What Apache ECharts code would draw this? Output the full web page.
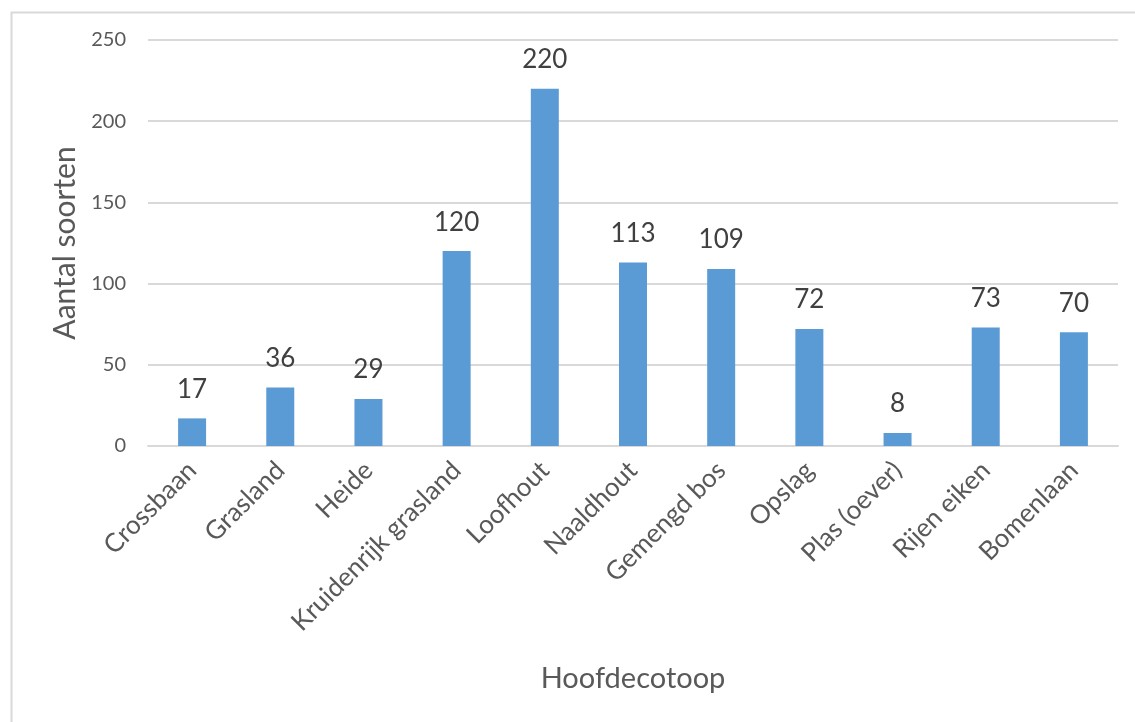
<!DOCTYPE html>
<html>
<head>
<meta charset="utf-8">
<script src="https://cdn.jsdelivr.net/npm/echarts@6/dist/echarts.min.js"></script>
<style>
html,body{margin:0;padding:0;background:#fff;}
#chart{width:1135px;height:722px;}
</style>
</head>
<body>
<div id="chart"></div>
<script>
const categories = ['Crossbaan','Grasland','Heide','Kruidenrijk grasland','Loofhout','Naaldhout','Gemengd bos','Opslag','Plas (oever)','Rijen eiken','Bomenlaan'];
const values = [17, 36, 29, 120, 220, 113, 109, 72, 8, 73, 70];
const yTicks = [0, 50, 100, 150, 200, 250];
const yAxisTitle = 'Aantal soorten';
const xAxisTitle = 'Hoofdecotoop';

const FONT = 'Lato, "Open Sans", sans-serif';
const chart = echarts.init(document.getElementById('chart'));
chart.setOption({
  animation: false,
  backgroundColor: '#fff',
  textStyle: { fontFamily: FONT },
  graphic: [{
    type: 'rect', left: 9, top: 10, z: -1,
    shape: { x: 0, y: 0, width: 1140, height: 730 },
    style: { fill: 'none', stroke: '#D9D9D9', lineWidth: 2 }
  }],
  grid: { left: 148, right: 17, top: 40, bottom: 276, containLabel: false },
  xAxis: {
    type: 'category',
    data: categories,
    name: xAxisTitle,
    nameLocation: 'middle',
    nameGap: 218,
    nameTextStyle: { fontSize: 29, color: '#595959', fontFamily: FONT, verticalAlign: 'top' },
    axisLine: { lineStyle: { color: '#D9D9D9', width: 2 } },
    axisTick: { show: false },
    axisLabel: { rotate: 45, fontSize: 26, color: '#595959', margin: 20, interval: 0, fontFamily: FONT }
  },
  yAxis: {
    type: 'value',
    min: yTicks[0],
    max: yTicks[yTicks.length - 1],
    interval: 50,
    name: yAxisTitle,
    nameLocation: 'middle',
    nameGap: 64,
    nameTextStyle: { fontSize: 30, color: '#595959', fontFamily: FONT },
    axisLine: { show: false },
    axisTick: { show: false },
    axisLabel: { fontSize: 20, color: '#595959', margin: 22, fontFamily: FONT },
    splitLine: { lineStyle: { color: '#D9D9D9', width: 2 } }
  },
  series: [{
    type: 'bar',
    data: values,
    barWidth: 28,
    itemStyle: { color: '#5B9BD5' },
    label: { show: true, position: 'top', distance: 16, fontSize: 26, color: '#404040', fontFamily: FONT }
  }]
});
</script>
</body>
</html>
